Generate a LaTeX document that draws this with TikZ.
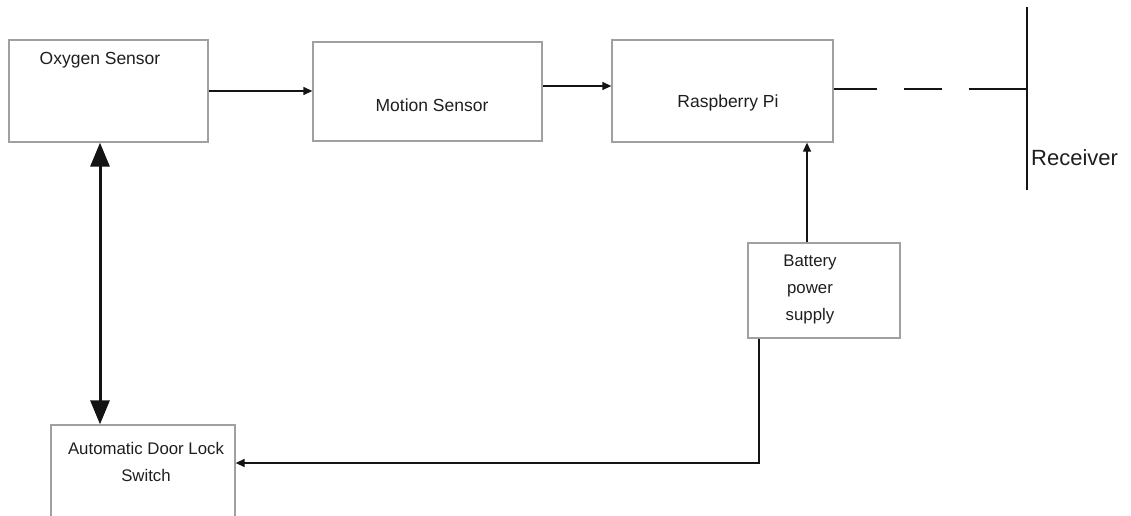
\documentclass[tikz,border=0pt]{standalone}
\usepackage{fontspec}
\setmainfont{Liberation Sans}
\usepackage{xcolor}
\usepackage{tikz}
\usetikzlibrary{arrows.meta, positioning}
\definecolor{boxgray}{RGB}{160,160,160}
\definecolor{textgray}{RGB}{30,30,30}
\definecolor{linedark}{RGB}{20,20,20}

\begin{document}
\begin{tikzpicture}[
    x=1pt, y=-1pt,
    block/.style={rectangle, draw=boxgray, line width=1.3pt, inner sep=0pt},
    txt/.style={font=\fontsize{17.5}{27}\selectfont, text=textgray, align=center},
    smalltxt/.style={font=\fontsize{16.8}{27}\selectfont, text=textgray, align=center},
    arrow/.style={-{Triangle[length=9pt, width=8pt]}, line width=1.3pt, linedark},
    bigarrow/.style={{Triangle[length=24pt, width=19pt]}-{Triangle[length=24pt, width=19pt]}, line width=3pt, linedark},
    link/.style={line width=1.3pt, linedark, dash pattern=on 43pt off 27pt on 38pt off 27pt on 60pt}
]
    \useasboundingbox (0,0) rectangle (1131,516);

    % Nodes
    \node[block, minimum width=199pt, minimum height=102pt,
          label={[txt, xshift=-8.5pt, yshift=31pt]center:Oxygen Sensor}] (oxygen) at (108.5,91) {};
    \node[block, minimum width=229pt, minimum height=99pt,
          label={[txt, xshift=4.5pt, yshift=-13.5pt]center:Motion Sensor}] (motion) at (427.5,91.5) {};
    \node[block, minimum width=221pt, minimum height=102pt,
          label={[txt, xshift=5.5pt, yshift=-12pt]center:Raspberry Pi}] (raspi) at (722.5,91) {};
    \node[block, minimum width=152pt, minimum height=95pt,
          label={[smalltxt, xshift=-14pt, yshift=1.5pt]center:Battery\\power\\supply}] (battery) at (824,290.5) {};
    \node[block, minimum width=184pt, minimum height=104pt,
          label={[smalltxt, xshift=3pt, yshift=15.5pt]center:Automatic Door Lock\\Switch}] (doorlock) at (143,477) {};

    % Receiver
    \coordinate (rxtop) at (1027,7);
    \coordinate (rxbot) at (1027,190);
    \draw[line width=1.5pt, linedark] (rxtop) -- (rxbot);
    \node[font=\fontsize{22}{26}\selectfont, text=textgray, anchor=west, inner sep=0pt] (receiver) at (1031,158) {Receiver};

    % Arrows
    \draw[arrow] (oxygen.east) -- (oxygen.east -| motion.west);
    \draw[arrow] ([yshift=5.5pt]motion.east) -- ([yshift=5.5pt]motion.east -| raspi.west);
    \draw[link] ([yshift=2pt]raspi.east) -- ([yshift=2pt]raspi.east -| rxtop);
    \draw[arrow] ([xshift=-17pt]battery.north) -- ([xshift=-17pt]battery.north |- raspi.south);
    \draw[arrow] ([xshift=-65pt]battery.south) |- ([yshift=14pt]doorlock.east);
    \draw[bigarrow] ([xshift=-8.5pt]oxygen.south) -- ([xshift=-8.5pt]oxygen.south |- doorlock.north);
\end{tikzpicture}
\end{document}
